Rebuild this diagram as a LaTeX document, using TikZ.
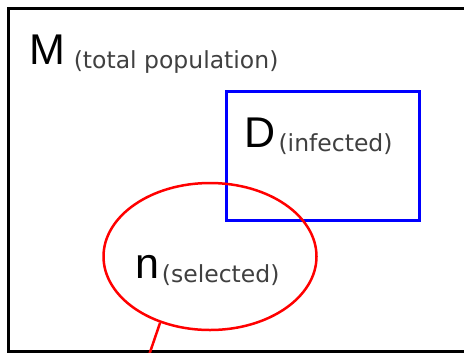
\documentclass[tikz,border=0pt]{standalone}
\usepackage{fontspec}
\usetikzlibrary{shapes.geometric}
\newfontfamily\bigfont{Liberation Sans}
\newfontfamily\smallfont{DejaVu Sans}
\definecolor{labelgray}{HTML}{404040}
\newcommand{\biglabel}[1]{{\bigfont\fontsize{43bp}{50bp}\selectfont #1}}
\newcommand{\smalllabel}[2]{\hspace{#1}\raisebox{-4bp}{\smallfont\fontsize{23.5bp}{28bp}\selectfont\color{labelgray}#2}}
\tikzset{
  setlabel/.style={anchor=base west, inner sep=0pt, outer sep=0pt},
  frameline/.style={draw=black, line width=3bp},
  infectedbox/.style={draw=blue, line width=3bp, rectangle, inner sep=0pt, minimum width=193bp, minimum height=129bp},
  selectedell/.style={draw=red, line width=2.5bp, ellipse, inner sep=0pt, minimum width=213bp, minimum height=147bp},
}
\begin{document}
\begin{tikzpicture}[x=1bp,y=-1bp]
\useasboundingbox (0,0) rectangle (464,352);
\clip (0,0) rectangle (464,352);
\fill[white] (0,0) rectangle (464,352);
\draw[frameline] (8,8.5) rectangle (500,351.5);
\node[infectedbox] (infected) at (322.5,155.5) {};
\node[selectedell] (selected) at (210,256.5) {};
\coordinate (tail) at (146,364);
\draw[red, line width=2.5bp] (selected.233) -- (tail);
\node[setlabel] (mlabel) at (29,64) {\biglabel{M}\smalllabel{9bp}{(total population)}};
\node[setlabel] (dlabel) at (244.5,147) {\biglabel{D}\smalllabel{3bp}{(infected)}};
\node[setlabel] (nlabel) at (135,278) {\biglabel{n}\smalllabel{3bp}{(selected)}};
\end{tikzpicture}
\end{document}
